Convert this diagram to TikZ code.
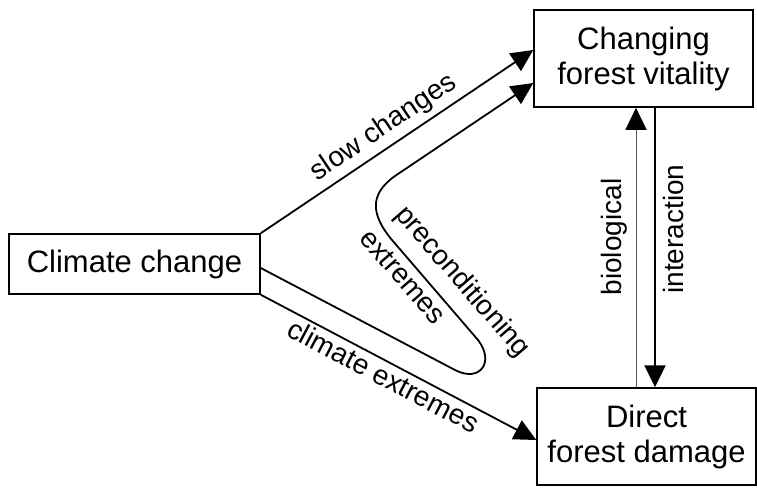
\documentclass[tikz,border=0pt]{standalone}
\usepackage{fontspec}
\setmainfont{Liberation Sans}
\usetikzlibrary{arrows.meta}
\begin{document}
\begin{tikzpicture}[x=1pt, y=-1pt,
        box/.style={draw, line width=1.5pt, inner sep=0pt, align=center, font=\fontsize{31}{35}\selectfont},
        lbl/.style={font=\fontsize{28}{32}\selectfont, inner sep=3pt},
        tip/.style={-{Triangle[length=22pt, width=21pt, black]}, line width=1.8pt}]
        \useasboundingbox (0,0) rectangle (757,487);
        \node[box, minimum width=251pt, minimum height=60pt] (climate) at (134.5,264) {Climate change};
        \node[box, minimum width=219pt, minimum height=97pt] (vitality) at (643.5,58.5) {Changing\\forest vitality};
        \node[box, minimum width=219pt, minimum height=97pt] (damage) at (646.5,436.5) {Direct\\forest damage};
        \coordinate (slowend) at ([yshift=8.5pt]vitality.west);
        \coordinate (precstart) at ([yshift=-4pt]climate.east);
        \coordinate (precend) at ([yshift=-24.5pt]vitality.west);
        \coordinate (extrend) at ([yshift=-3.5pt]damage.west);
        \draw[tip] (climate.north east) -- node[lbl, sloped, above, pos=0.49, inner sep=5pt] (slowlab) {slow changes} (slowend);
        \draw[tip] (climate.south east) -- node[lbl, sloped, below, pos=0.47] (extrlab) {climate extremes} (extrend);
        \draw[tip] (precstart) -- (455,370) .. controls (480,383) and (495,362) .. (478,340)
            -- (392,240) .. controls (372,216) and (368,195) .. (395,176) -- (precend);
        \node[lbl, rotate=-49] (preclab) at (462,282) {preconditioning};
        \node[lbl, rotate=-49] (xtrlab) at (403,277) {extremes};
        \draw[tip, line width=1pt, black!65] ([xshift=-10.5pt]damage.north) -- ([xshift=-7.5pt]vitality.south);
        \draw[tip, line width=2.4pt] ([xshift=11.5pt]vitality.south) -- ([xshift=8.5pt]damage.north);
        \node[lbl, rotate=90] (biolab) at (614,237) {biological};
        \node[lbl, rotate=90] (interlab) at (673,229) {interaction};
    \end{tikzpicture}
\end{document}
